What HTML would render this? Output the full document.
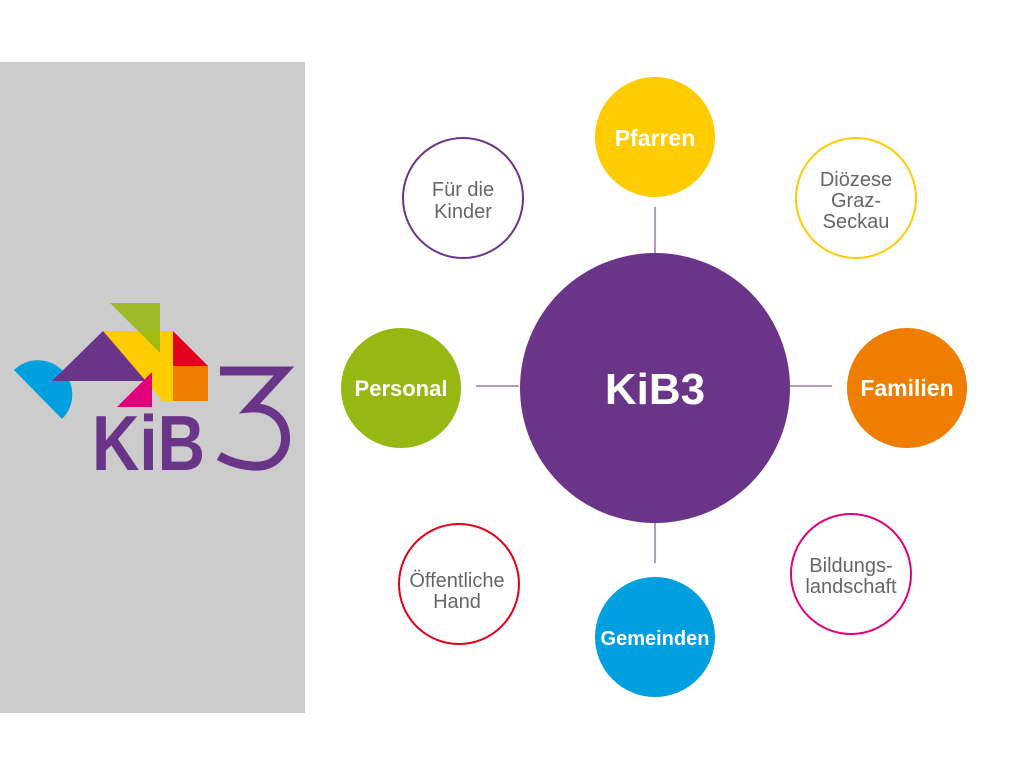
<!DOCTYPE html>
<html><head><meta charset="utf-8"><style>
body{margin:0;width:1024px;height:768px;background:#fff;overflow:hidden;font-family:"Liberation Sans",sans-serif}
</style></head><body>
<svg width="1024" height="768" xmlns="http://www.w3.org/2000/svg" style="position:absolute;left:0;top:0">
<rect x="0" y="62" width="305" height="651" fill="#cccccc"/>
<path d="M14,370 L62,419 A34,34 0 0 0 14,370 Z" fill="#009fe0"/>
<polygon points="52,381 103,331 152,381" fill="#6a3489"/>
<polygon points="103,331 173,331 173,401 163,401" fill="#ffcc00"/>
<polygon points="110,303 160,303 160,353" fill="#97b813" opacity="0.9"/>
<polygon points="173,331 173,366 208,366" fill="#e2001a"/>
<rect x="173" y="366" width="35" height="35" fill="#ef7d00"/>
<polygon points="117,407 152,407 152,372" fill="#e2007a"/>
<text x="92" y="470" font-size="78" font-weight="bold" fill="#6a3489" textLength="113" lengthAdjust="spacingAndGlyphs">KiB</text>
<path d="M220,371 H284 L250,408 C296,404 298,470 252,466 C238,465 228,461 219,456" fill="none" stroke="#6a3489" stroke-width="9"/>
<g stroke="#6a3489" stroke-width="1">
<line x1="655" y1="207" x2="655" y2="253"/><line x1="655" y1="523" x2="655" y2="563"/>
<line x1="476" y1="386" x2="519" y2="386"/><line x1="790" y1="386" x2="832" y2="386"/>
</g>
<circle cx="655" cy="388" r="135" fill="#6a3489"/>
<circle cx="655" cy="137" r="60" fill="#ffcc00"/>
<circle cx="655" cy="637" r="60" fill="#009fe0"/>
<circle cx="401" cy="388" r="60" fill="#97b813"/>
<circle cx="907" cy="388" r="60" fill="#ef7d00"/>
<circle cx="463" cy="198" r="60" fill="none" stroke="#6a3489" stroke-width="2"/>
<circle cx="856" cy="198" r="60" fill="none" stroke="#ffcc00" stroke-width="2"/>
<circle cx="459" cy="584" r="60" fill="none" stroke="#e2001a" stroke-width="2"/>
<circle cx="851" cy="574" r="60" fill="none" stroke="#e2007a" stroke-width="2"/>
<g font-weight="bold" fill="#fff" text-anchor="middle">
<text x="655" y="404" font-size="44">KiB3</text>
<text x="655" y="146" font-size="23">Pfarren</text>
<text x="655" y="645" font-size="20">Gemeinden</text>
<text x="401" y="396" font-size="22">Personal</text>
<text x="907" y="396" font-size="23">Familien</text>
</g>
<g fill="#666" text-anchor="middle" font-size="20">
<text x="463" y="196">Für die</text><text x="463" y="218">Kinder</text>
<text x="856" y="186">Diözese</text><text x="856" y="207">Graz-</text><text x="856" y="228">Seckau</text>
<text x="457" y="587">Öffentliche</text><text x="457" y="608">Hand</text>
<text x="851" y="572">Bildungs-</text><text x="851" y="593">landschaft</text>
</g>
</svg>
</body></html>
